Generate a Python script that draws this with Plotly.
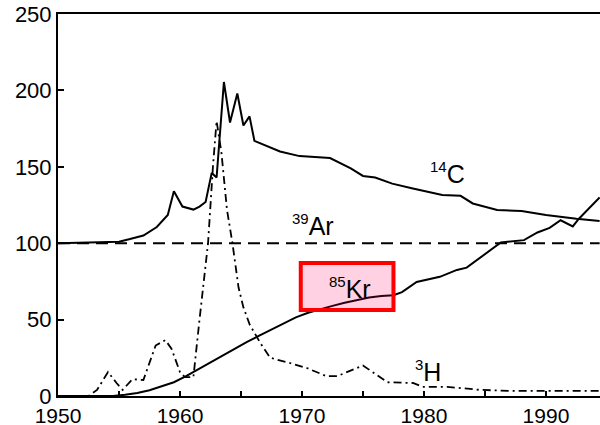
import plotly.graph_objects as go

# ---- data ----
c14_years = [1950, 1955, 1955.9, 1957.0, 1958.1, 1959.0, 1959.5, 1960.2, 1961.1, 1961.6, 1962.1,
             1962.6, 1963.0, 1963.6, 1964.1, 1964.7, 1965.2, 1965.7, 1966.1, 1967.3, 1968.2,
             1969.8, 1972.3, 1974.0, 1975.0, 1976.0, 1977.4, 1979.0, 1980.3, 1981.5, 1983.0,
             1984.0, 1986.0, 1988.0, 1990.0, 1991.3, 1992.5, 1994.4]
c14_vals = [100, 101, 102.7, 105, 110.6, 118.5, 134, 124, 122, 124, 127,
            146, 143, 205.5, 179, 198, 177, 183, 167, 163, 160,
            157, 155.7, 149, 144, 143, 139, 136, 133.5, 131.5, 131,
            126, 121.7, 121, 118.5, 117, 116, 114.5]

ar39_years = [1950, 1994.4]
ar39_vals = [100, 100]

kr85_years = [1950, 1954.5, 1955.5, 1956.5, 1957.5, 1958.5, 1959.5, 1960.5, 1961.5, 1962.5,
              1963.5, 1964.5, 1965.5, 1966.5, 1967.5, 1968.5, 1969.5, 1970.5, 1971.5, 1972.5,
              1973.5, 1974.5, 1975.5, 1976.5, 1977.5, 1978.2, 1979.4, 1981.3, 1982.7, 1983.5,
              1984.6, 1986.3, 1988.2, 1989.3, 1990.3, 1991.2, 1992.2, 1992.7, 1994.4]
kr85_vals = [0, 0, 0.8, 2, 3.8, 6.3, 9, 13, 17.5, 22,
             27, 31.5, 35.5, 39.5, 43.5, 47.5, 51.5, 54.5, 57, 59,
             61, 63, 64.5, 65.5, 66, 68, 74.6, 78, 82.5, 84,
             90.5, 100.5, 102, 107, 110, 115, 111, 116, 130]

h3_years = [1950, 1952.5, 1953.2, 1954.1, 1954.8, 1955.3, 1956.1, 1957.0, 1958.0, 1958.8,
            1959.3, 1960.0, 1960.4, 1961.1, 1961.6, 1962.3, 1962.7, 1963.0, 1963.4, 1963.85,
            1964.3, 1964.8, 1965.2, 1965.7, 1966.6, 1967.4, 1969.0, 1970.4, 1972.0, 1972.9,
            1975.0, 1977.0, 1979.1, 1979.9, 1981.9, 1984.6, 1987.3, 1994.4]
h3_vals = [0, 0, 4, 15.7, 8.5, 4, 11, 10.5, 33, 36.6,
           31, 15.7, 12.4, 12.4, 50, 100, 150, 180, 159, 122,
           100, 71, 58, 47, 34.5, 25, 21.6, 18.3, 13, 13,
           20, 9, 8.5, 6, 6, 4, 3.3, 3.3]

x_ticks = [1950, 1960, 1970, 1980, 1990]
x_minor_ticks = [1955, 1965, 1975, 1985]
y_ticks = [0, 50, 100, 150, 200, 250]

label_sup = ["14", "39", "85", "3"]
label_main = ["C", "Ar", "Kr", "H"]
label_x = [1981.9, 1970.9, 1973.9, 1980.3]
label_y = [146, 112, 70.7, 16.4]

highlight_x = [1969.9, 1977.5]
highlight_y = [56.3, 87]

FONT = "Liberation Sans, Arial, Helvetica, sans-serif"

fig = go.Figure()
fig.add_trace(go.Scatter(x=c14_years, y=c14_vals, mode="lines",
                         line=dict(color="black", width=2)))
fig.add_trace(go.Scatter(x=ar39_years, y=ar39_vals, mode="lines",
                         line=dict(color="black", width=2, dash="12px,7px")))
fig.add_trace(go.Scatter(x=kr85_years, y=kr85_vals, mode="lines",
                         line=dict(color="black", width=2)))
fig.add_trace(go.Scatter(x=h3_years, y=h3_vals, mode="lines",
                         line=dict(color="black", width=1.8, dash="8px,4px,2px,4px")))

for s, m, x, y in zip(label_sup, label_main, label_x, label_y):
    fig.add_annotation(x=x, y=y, showarrow=False,
                       text=f"<sup><span style='font-size:15px'>{s}</span></sup>{m}",
                       font=dict(family=FONT, size=25, color="black"))

fig.add_shape(type="rect", x0=highlight_x[0], x1=highlight_x[1],
              y0=highlight_y[0], y1=highlight_y[1],
              line=dict(color="#ff0000", width=4),
              fillcolor="rgba(255,0,100,0.18)", layer="above")

fig.update_layout(
    width=600, height=425,
    margin=dict(l=58, r=0, t=14, b=29),
    paper_bgcolor="white", plot_bgcolor="white",
    showlegend=False,
    font=dict(family=FONT, size=21, color="black"),
    xaxis=dict(range=[1950, 1994.43], tickvals=x_ticks, showgrid=False, zeroline=False,
               showline=True, linecolor="black", linewidth=2, mirror=True,
               ticks="inside", ticklen=5, tickwidth=1.5, tickcolor="black",
               tickfont=dict(size=21), automargin=False,
               minor=dict(tickvals=x_minor_ticks, ticks="inside", ticklen=5,
                          tickwidth=1.5, tickcolor="black")),
    yaxis=dict(range=[0, 250], tickvals=y_ticks, showgrid=False, zeroline=False,
               showline=True, linecolor="black", linewidth=2, automargin=False,
               ticks="inside", ticklen=6, tickwidth=1.5, tickcolor="black",
               tickfont=dict(size=22)),
)

# remove the page's default body margin so the figure fills the window exactly
fig.write_html("out.html", config={"displayModeBar": False},
               post_script="document.body.style.margin='0';document.body.style.overflow='hidden';")
